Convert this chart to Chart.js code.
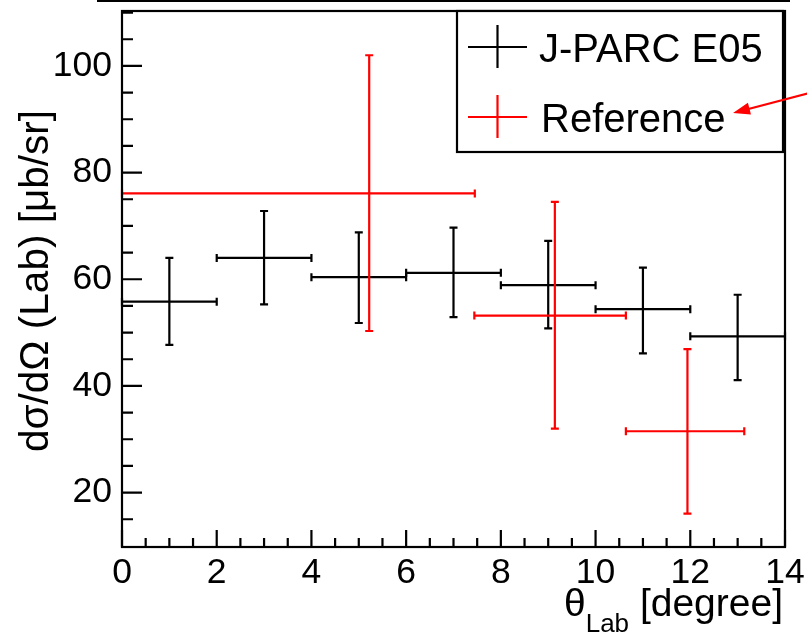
<!DOCTYPE html>
<html><head><meta charset="utf-8">
<script src="https://cdn.jsdelivr.net/npm/chart.js@4.4.0/dist/chart.umd.min.js"></script>
<style>html,body{margin:0;padding:0;background:#fff;} #wrap{width:807px;height:638px;position:relative;}</style>
</head><body><div id="wrap"><canvas id="c" width="807" height="638"></canvas></div>
<script>
// ---- data ----
const xTickValues = [0, 2, 4, 6, 8, 10, 12, 14];
const yTickValues = [20, 40, 60, 80, 100];
const seriesNames = ['J-PARC E05', 'Reference'];
const xTitleMain = 'θ';
const xTitleSub = 'Lab';
const xTitleRest = ' [degree]';
const yTitle = 'dσ/dΩ (Lab) [μb/sr]';

const e05X = [1, 3, 5, 7, 9, 11, 13];
const e05XLow = [0, 2, 4, 6, 8, 10, 12];
const e05XHigh = [2, 4, 6, 8, 10, 12, 14];
const e05Y = [55.8, 64.0, 60.4, 61.2, 58.9, 54.4, 49.3];
const e05YLow = [47.7, 55.3, 51.8, 52.9, 50.8, 46.1, 41.1];
const e05YHigh = [64.0, 72.8, 68.8, 69.7, 67.2, 62.2, 57.1];

const refX = [5.22, 9.14, 11.94];
const refXLow = [0, 7.44, 10.64];
const refXHigh = [7.45, 10.64, 13.14];
const refY = [76.1, 53.2, 31.5];
const refYLow = [50.3, 32.0, 16.05];
const refYHigh = [102.0, 74.5, 46.9];

const FONT = '"Liberation Sans", Arial, Helvetica, sans-serif';

function pts(xs, ys) { return xs.map((v, i) => ({ x: v, y: ys[i] })); }

const errorBarPlugin = {
  id: 'errbars',
  afterDatasetsDraw(chart) {
    const { ctx, scales: { x, y } } = chart;
    chart.data.datasets.forEach(ds => {
      const e = ds.err;
      ctx.save();
      ctx.strokeStyle = ds.borderColor;
      ctx.lineWidth = 2.2;
      ds.data.forEach((p, i) => {
        const px = x.getPixelForValue(p.x), py = y.getPixelForValue(p.y);
        const xl = x.getPixelForValue(e.xLow[i]), xh = x.getPixelForValue(e.xHigh[i]);
        const yl = y.getPixelForValue(e.yLow[i]), yh = y.getPixelForValue(e.yHigh[i]);
        const c = 4;
        ctx.beginPath();
        ctx.moveTo(xl, py); ctx.lineTo(xh, py);
        ctx.moveTo(px, yl); ctx.lineTo(px, yh);
        ctx.moveTo(xl, py - c); ctx.lineTo(xl, py + c);
        ctx.moveTo(xh, py - c); ctx.lineTo(xh, py + c);
        ctx.moveTo(px - c, yl); ctx.lineTo(px + c, yl);
        ctx.moveTo(px - c, yh); ctx.lineTo(px + c, yh);
        ctx.stroke();
      });
      ctx.restore();
    });
  }
};

const framePlugin = {
  id: 'frame',
  afterDraw(chart) {
    const { ctx, chartArea: a, scales: { x, y } } = chart;
    ctx.save();
    ctx.strokeStyle = '#000';
    ctx.lineWidth = 2.2;
    // top cut line
    ctx.beginPath(); ctx.moveTo(97, 1); ctx.lineTo(790, 1); ctx.stroke();
    // frame
    ctx.strokeRect(a.left, a.top, a.right - a.left, a.bottom - a.top);
    // ticks (inside)
    ctx.beginPath();
    for (let v = 0; v <= 14.001; v += 0.5) {
      const px = x.getPixelForValue(v);
      const major = Math.abs(v / 2 - Math.round(v / 2)) < 1e-6;
      ctx.moveTo(px, a.bottom); ctx.lineTo(px, a.bottom - (major ? 17 : 9));
    }
    for (let v = 15; v <= 110; v += 5) {
      const py = y.getPixelForValue(v);
      const major = v % 20 === 0;
      ctx.moveTo(a.left, py); ctx.lineTo(a.left + (major ? 20 : 11), py);
    }
    ctx.stroke();

    // legend box
    const lx = 457, ly = a.top, lw = 326, lh = 141;
    ctx.fillStyle = '#fff';
    ctx.fillRect(lx, ly, lw, lh);
    ctx.strokeRect(lx, ly, lw, lh);
    ctx.font = '40px ' + FONT;
    ctx.textBaseline = 'alphabetic';
    ctx.textAlign = 'left';
    chart.data.datasets.forEach((ds, i) => {
      const cy = ly + 36 + i * 70;
      ctx.strokeStyle = ds.borderColor;
      ctx.beginPath();
      ctx.moveTo(468, cy); ctx.lineTo(527, cy);
      ctx.moveTo(497.5, cy - 22); ctx.lineTo(497.5, cy + 21);
      ctx.stroke();
      ctx.fillStyle = '#000';
      ctx.fillText(ds.label, 539 + i * 2, cy + 15);
    });

    // arrow
    ctx.strokeStyle = '#f00';
    ctx.fillStyle = '#f00';
    const tipX = 733, tipY = 113, sx = 809, sy = 93;
    const ang = Math.atan2(sy - tipY, sx - tipX);
    ctx.beginPath(); ctx.moveTo(sx, sy); ctx.lineTo(tipX + 12 * Math.cos(ang), tipY + 12 * Math.sin(ang)); ctx.stroke();
    ctx.beginPath();
    ctx.moveTo(tipX, tipY);
    ctx.lineTo(tipX + 17 * Math.cos(ang) - 6 * Math.sin(ang), tipY + 17 * Math.sin(ang) + 6 * Math.cos(ang));
    ctx.lineTo(tipX + 17 * Math.cos(ang) + 6 * Math.sin(ang), tipY + 17 * Math.sin(ang) - 6 * Math.cos(ang));
    ctx.closePath(); ctx.fill();

    // axis titles
    ctx.fillStyle = '#000';
    ctx.font = '39px ' + FONT;
    ctx.textAlign = 'right';
    ctx.fillText(xTitleRest, a.right - 2, 616);
    const restW = ctx.measureText(xTitleRest).width;
    ctx.font = '26px ' + FONT;
    const subW = ctx.measureText(xTitleSub).width;
    ctx.fillText(xTitleSub, a.right - 2 - restW, 632);
    ctx.font = '39px ' + FONT;
    ctx.fillText(xTitleMain, a.right - 2 - restW - subW, 616);

    ctx.font = '40.5px ' + FONT;
    ctx.translate(48, 110);
    ctx.rotate(-Math.PI / 2);
    ctx.textAlign = 'right';
    ctx.fillText(yTitle, 0, 0);
    ctx.restore();
  }
};

new Chart(document.getElementById('c'), {
  type: 'scatter',
  data: {
    datasets: [
      { label: seriesNames[0], data: pts(e05X, e05Y), borderColor: '#000', backgroundColor: '#000', pointRadius: 0,
        err: { xLow: e05XLow, xHigh: e05XHigh, yLow: e05YLow, yHigh: e05YHigh } },
      { label: seriesNames[1], data: pts(refX, refY), borderColor: '#ff0000', backgroundColor: '#ff0000', pointRadius: 0,
        err: { xLow: refXLow, xHigh: refXHigh, yLow: refYLow, yHigh: refYHigh } }
    ]
  },
  options: {
    responsive: false,
    animation: false,
    devicePixelRatio: 1,
    layout: { padding: { left: 0, right: 22, top: 11, bottom: 0 } },
    plugins: { legend: { display: false }, tooltip: { enabled: false }, title: { display: false } },
    scales: {
      x: {
        type: 'linear', min: 0, max: 14,
        border: { display: false },
        grid: { display: false, drawTicks: false },
        afterBuildTicks(s) { s.ticks = xTickValues.map(v => ({ value: v })); },
        afterFit(s) { s.height = 91; s.paddingLeft = 0; s.paddingRight = 0; },
        ticks: { color: '#000', font: { family: FONT, size: 35.5 }, padding: 5, maxRotation: 0, autoSkip: false }
      },
      y: {
        type: 'linear', min: 9.8, max: 110.3,
        border: { display: false },
        grid: { display: false, drawTicks: false },
        afterBuildTicks(s) { s.ticks = yTickValues.map(v => ({ value: v })); },
        afterFit(s) { s.width = 122; s.paddingTop = 0; s.paddingBottom = 0; },
        ticks: { color: '#000', font: { family: FONT, size: 35.5 }, padding: 10, autoSkip: false }
      }
    }
  },
  plugins: [errorBarPlugin, framePlugin]
});
</script>
</body></html>
